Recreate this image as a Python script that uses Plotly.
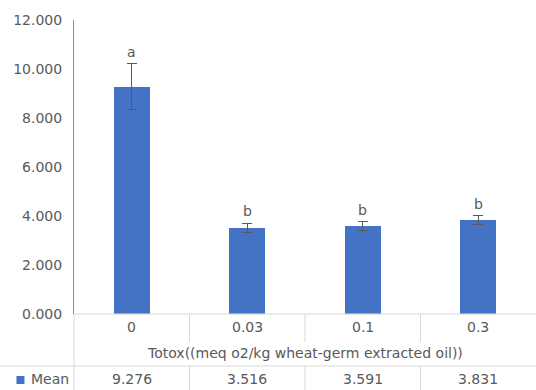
import plotly.graph_objects as go

# Totox values for each treatment level
categories = ["0", "0.03", "0.1", "0.3"]
means = [9.276, 3.516, 3.591, 3.831]
errors = [0.93, 0.18, 0.18, 0.17]
letters = ["a", "b", "b", "b"]
y_ticks = [0, 2, 4, 6, 8, 10, 12]
series_name = "Mean"
x_title = "Totox((meq o2/kg wheat-germ extracted oil))"

BLUE = "#4472C4"
TEXT = "#595959"
GRID = "#D9D9D9"
FONT = "DejaVu Sans"

W, H = 536, 390
L, R, T, B = 73.6, 0, 20, 76
plot_w = W - L - R
plot_h = H - T - B


def py(px_from_top):
    """Convert a pixel row (from the top of the page) to paper y."""
    return (H - B - px_from_top) / plot_h


def px(px_from_left):
    """Convert a pixel column to paper x."""
    return (px_from_left - L) / plot_w


xs = list(range(len(categories)))

fig = go.Figure()
fig.add_trace(go.Bar(
    x=xs, y=means, width=0.31, marker=dict(color=BLUE, line=dict(width=0)),
    error_y=dict(type="data", array=errors, visible=True, color=TEXT,
                 thickness=1, width=5),
    name=series_name, showlegend=False,
))

# significance letters above the error bars
for x, m, e, t in zip(xs, means, errors, letters):
    fig.add_annotation(x=x, y=m + e, text=t, showarrow=False, yanchor="bottom",
                       yshift=2, font=dict(family=FONT, size=14, color=TEXT))

# data table: category row, axis title, value row
row1_y, title_y, row2_y = 327, 353, 379
for x, c, m in zip(xs, categories, means):
    fig.add_annotation(x=x, y=py(row1_y), yref="paper", yanchor="middle",
                       text=c, showarrow=False,
                       font=dict(family=FONT, size=14, color=TEXT))
    fig.add_annotation(x=x, y=py(row2_y), yref="paper", yanchor="middle",
                       text=f"{m:.3f}", showarrow=False,
                       font=dict(family=FONT, size=14, color=TEXT))

fig.add_annotation(x=0.5, xref="paper", y=py(title_y), yref="paper",
                   yanchor="middle", text=x_title, showarrow=False,
                   font=dict(family=FONT, size=14, color=TEXT))
fig.add_annotation(x=px(29), xref="paper", xanchor="left", y=py(row2_y),
                   yref="paper", yanchor="middle", text=series_name,
                   showarrow=False, font=dict(family=FONT, size=14, color=TEXT))

shapes = []
# legend key
shapes.append(dict(type="rect", xref="paper", yref="paper",
                   x0=px(16), x1=px(24), y0=py(384), y1=py(376),
                   fillcolor=BLUE, line=dict(width=0)))
# table borders
line = dict(color=GRID, width=1)
shapes.append(dict(type="line", xref="paper", yref="paper", x0=0, x1=1,
                   y0=0, y1=0, line=line))
shapes.append(dict(type="line", xref="paper", yref="paper", x0=px(0), x1=1,
                   y0=py(366), y1=py(366), line=line))
shapes.append(dict(type="line", xref="paper", yref="paper", x0=0, x1=0,
                   y0=0, y1=py(H), line=line))
for b in [0.5, 1.5, 2.5]:
    shapes.append(dict(type="line", xref="x", yref="paper", x0=b, x1=b,
                       y0=0, y1=py(342), line=line))
    shapes.append(dict(type="line", xref="x", yref="paper", x0=b, x1=b,
                       y0=py(366), y1=py(H), line=line))

fig.update_layout(
    width=W, height=H,
    margin=dict(l=L, r=R, t=T, b=B, pad=0),
    paper_bgcolor="white", plot_bgcolor="white",
    shapes=shapes,
    bargap=0,
    xaxis=dict(range=[-0.5, 3.5], showticklabels=False, showgrid=False,
               zeroline=False, showline=False, ticks=""),
    yaxis=dict(range=[0, 12], tickvals=y_ticks,
               ticktext=[f"{v:.3f}" for v in y_ticks],
               showgrid=False, zeroline=False, showline=True,
               linecolor="#8C8C8C", linewidth=1, ticks="", ticklen=0,
               ticklabelstandoff=8,
               tickfont=dict(family=FONT, size=14, color=TEXT)),
    font=dict(family=FONT, color=TEXT),
)

fig.write_html("out.html")
